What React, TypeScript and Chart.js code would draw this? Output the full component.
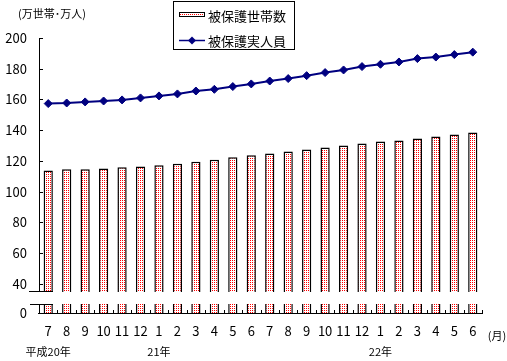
import React, { useEffect, useRef } from "react";
import { Chart, registerables } from "chart.js";

Chart.register(...registerables);

// ---- data ----
const months = ["7", "8", "9", "10", "11", "12", "1", "2", "3", "4", "5", "6", "7", "8", "9", "10", "11", "12", "1", "2", "3", "4", "5", "6"];
const households = [113.8, 114.5, 114.5, 115.1, 115.8, 116.4, 117.1, 118.1, 119.4, 120.7, 122.3, 123.6, 124.9, 126.2, 127.5, 128.8, 130.1, 131.4, 132.7, 133.3, 134.6, 135.9, 137.2, 138.5];
const persons = [157.3, 157.7, 158.4, 159.0, 159.7, 161.0, 162.3, 163.6, 165.5, 166.6, 168.4, 170.1, 172.0, 173.6, 175.5, 177.5, 179.2, 181.4, 182.9, 184.4, 186.6, 187.6, 189.2, 190.8];
const yTickValues = [0, 40, 60, 80, 100, 120, 140, 160, 180, 200];
const yearIndexes = [0, 6, 18];
const yearTexts = ["平成20年", "21年", "22年"];
const seriesNames = ["被保護世帯数", "被保護実人員"];
const yUnitLabel = "(万世帯･万人)";
const xUnitLabel = "(月)";

// ---- broken axis transform (0..40 compressed) ----
const BREAK = 40;
const LOW = 19; // axis units used by the 0..40 segment
const tf = (v: number) => (v >= BREAK ? v - BREAK + LOW : (v * LOW) / BREAK);
const inv = (p: number) => (p >= LOW ? p - LOW + BREAK : (p * BREAK) / LOW);

const FONT = '"Noto Sans CJK JP", "Noto Sans", sans-serif';
const NAVY = "#000080";

function makePattern(): CanvasPattern | string {
  const c = document.createElement("canvas");
  c.width = 2;
  c.height = 2;
  const g = c.getContext("2d");
  if (!g) return "#f66";
  g.fillStyle = "#ffffff";
  g.fillRect(0, 0, 2, 2);
  g.fillStyle = "#ff0000";
  g.fillRect(0, 0, 1, 1);
  const p = g.createPattern(c, "repeat");
  return p || "#f66";
}

export default function App() {
  const ref = useRef<HTMLCanvasElement | null>(null);

  useEffect(() => {
    if (!ref.current) return;
    const pattern = makePattern();

    const plugin = {
      id: "brokenAxis",
      afterDatasetsDraw(chart: any) {
        const { ctx, chartArea } = chart;
        const x = chart.scales.x;
        const y = chart.scales.y;
        const left = Math.round(chartArea.left);
        const right = Math.round(chartArea.right);
        const bottom = Math.round(y.getPixelForValue(0));
        const y40 = Math.round(y.getPixelForValue(tf(BREAK)));
        const bTop = y40 + 7;
        const bBot = bottom - 9;
        ctx.save();
        // gap
        ctx.fillStyle = "#ffffff";
        ctx.fillRect(left + 1, bTop + 1, right - left + 2, bBot - bTop - 1);
        ctx.strokeStyle = "#000";
        ctx.lineWidth = 1;
        ctx.beginPath();
        // y axis line (upper)
        ctx.moveTo(left + 0.5, Math.round(y.getPixelForValue(tf(200))));
        ctx.lineTo(left + 0.5, bTop);
        // lower part
        ctx.moveTo(left + 0.5, bBot);
        ctx.lineTo(left + 0.5, bottom);
        // break marks
        ctx.moveTo(left - 10, bTop + 0.5);
        ctx.lineTo(left + 14, bTop + 0.5);
        ctx.moveTo(left - 9, bBot + 0.5);
        ctx.lineTo(left + 14, bBot + 0.5);
        // y ticks (inward)
        yTickValues.forEach((v) => {
          if (v === 0) return;
          const py = Math.round(y.getPixelForValue(tf(v))) + 0.5;
          ctx.moveTo(left, py);
          ctx.lineTo(left + 4, py);
        });
        // x axis line
        ctx.moveTo(left - 1, bottom + 0.5);
        ctx.lineTo(right + 1, bottom + 0.5);
        // x ticks at category boundaries
        const n = months.length;
        for (let i = 0; i <= n; i++) {
          const c0 = x.getPixelForValue(Math.min(i, n - 1));
          const half = (x.getPixelForValue(1) - x.getPixelForValue(0)) / 2;
          const px = Math.round(i < n ? c0 - half : c0 + half) + 0.5;
          ctx.moveTo(px, bottom);
          ctx.lineTo(px, bottom - 3);
        }
        ctx.stroke();
        ctx.restore();
      },
      afterDraw(chart: any) {
        const { ctx } = chart;
        const x = chart.scales.x;
        ctx.save();
        ctx.fillStyle = "#000";
        // y unit
        ctx.font = `11px ${FONT}`;
        ctx.textAlign = "left";
        ctx.textBaseline = "middle";
        ctx.fillText(yUnitLabel, 18, 14);
        // x unit
        ctx.font = `11px ${FONT}`;
        ctx.textAlign = "center";
        ctx.fillText(xUnitLabel, 497, 336);
        // year labels
        ctx.font = `11px ${FONT}`;
        yearIndexes.forEach((idx, k) => {
          ctx.fillText(yearTexts[k], x.getPixelForValue(idx), 352);
        });
        // legend
        ctx.strokeStyle = "#000";
        ctx.lineWidth = 1;
        ctx.strokeRect(173.5, 1.5, 121, 48);
        ctx.fillStyle = pattern as any;
        ctx.fillRect(179, 12, 26, 5);
        ctx.strokeRect(179.5, 12.5, 25, 4);
        ctx.strokeStyle = NAVY;
        ctx.lineWidth = 1.5;
        ctx.beginPath();
        ctx.moveTo(179, 40.5);
        ctx.lineTo(205, 40.5);
        ctx.stroke();
        ctx.fillStyle = NAVY;
        ctx.beginPath();
        ctx.moveTo(192, 36.5);
        ctx.lineTo(196, 40.5);
        ctx.lineTo(192, 44.5);
        ctx.lineTo(188, 40.5);
        ctx.closePath();
        ctx.fill();
        ctx.fillStyle = "#000";
        ctx.font = `13px ${FONT}`;
        ctx.textAlign = "left";
        ctx.textBaseline = "middle";
        ctx.fillText(seriesNames[0], 208, 16);
        ctx.fillText(seriesNames[1], 208, 41);
        ctx.restore();
      },
    };

    const chart = new Chart(ref.current, {
      type: "bar",
      data: {
        labels: months,
        datasets: [
          {
            type: "line",
            label: seriesNames[1],
            data: persons.map(tf),
            borderColor: NAVY,
            borderWidth: 2,
            pointStyle: "rectRot",
            pointRadius: 4,
            pointBackgroundColor: NAVY,
            pointBorderColor: NAVY,
            pointBorderWidth: 1,
            tension: 0,
            order: 0,
          } as any,
          {
            type: "bar",
            label: seriesNames[0],
            data: households.map(tf),
            backgroundColor: pattern as any,
            borderColor: "#000",
            borderWidth: 1.5,
            barPercentage: 0.5,
            categoryPercentage: 1,
            order: 1,
          },
        ],
      },
      options: {
        responsive: false,
        animation: false,
        devicePixelRatio: 1,
        layout: { padding: { top: 38, right: 25, left: 0, bottom: 0 } },
        plugins: { legend: { display: false }, tooltip: { enabled: false } },
        scales: {
          x: {
            type: "category",
            offset: true,
            grid: { display: false, drawTicks: false },
            border: { display: false },
            afterFit: (s: any) => {
              s.height = 48;
            },
            ticks: {
              font: { size: 13, family: FONT },
              color: "#000",
              padding: 10,
              maxRotation: 0,
              autoSkip: false,
            },
          },
          y: {
            type: "linear",
            min: 0,
            max: tf(200),
            grid: { display: false, drawTicks: false },
            border: { display: false },
            afterBuildTicks: (s: any) => {
              s.ticks = yTickValues.map((v) => ({ value: tf(v) }));
            },
            afterFit: (s: any) => {
              s.width = 39;
            },
            ticks: {
              font: { size: 13, family: FONT },
              color: "#000",
              padding: 12,
              callback: (v: any) => String(Math.round(inv(Number(v)))),
            },
          },
        },
      },
      plugins: [plugin],
    });
    return () => chart.destroy();
  }, []);

  return (
    <div style={{ position: "fixed", left: 0, top: 0, width: 507, height: 361, background: "#fff" }}>
      <canvas ref={ref} width={507} height={361} style={{ display: "block" }} />
    </div>
  );
}
